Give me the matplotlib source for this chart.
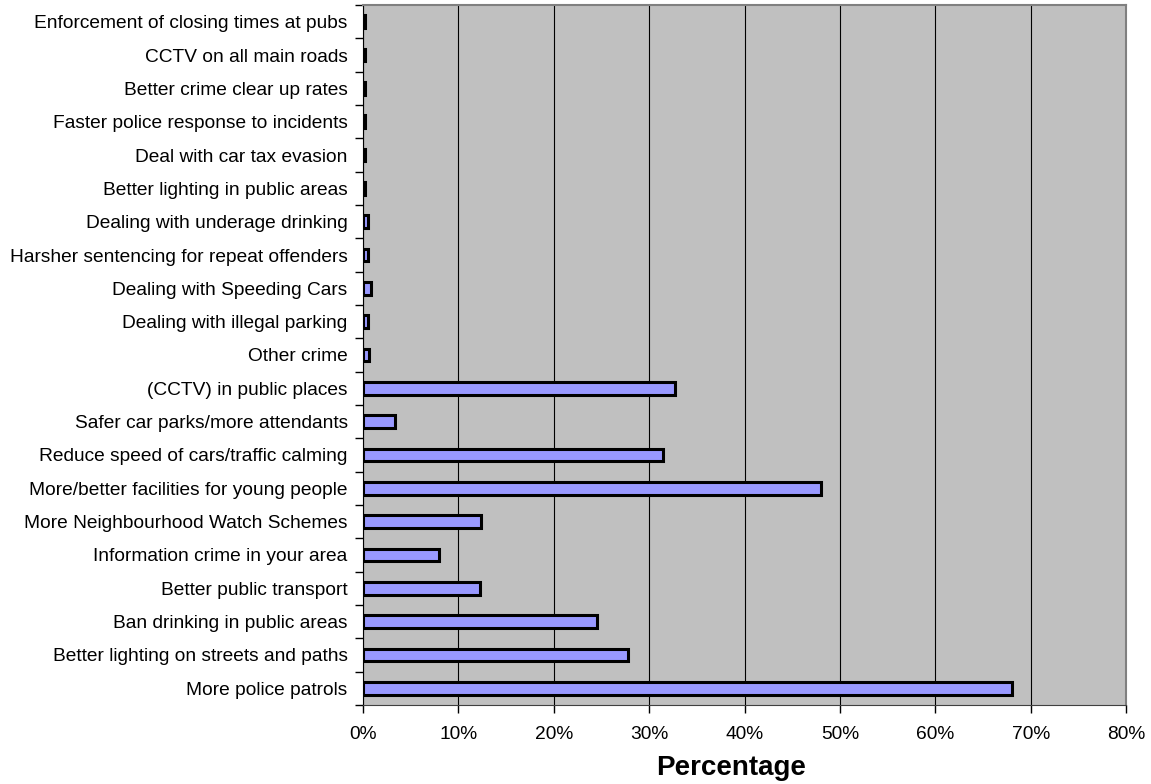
import numpy as np
import matplotlib.pyplot as plt
from matplotlib.ticker import FixedLocator, PercentFormatter

plt.rcParams['font.family'] = ['Liberation Sans', 'DejaVu Sans']

# survey answers, listed bottom to top
measures = [
    "More police patrols",
    "Better lighting on streets and paths",
    "Ban drinking in public areas",
    "Better public transport",
    "Information crime in your area",
    "More Neighbourhood Watch Schemes",
    "More/better facilities for young people",
    "Reduce speed of cars/traffic calming",
    "Safer car parks/more attendants",
    "(CCTV) in public places",
    "Other crime",
    "Dealing with illegal parking",
    "Dealing with Speeding Cars",
    "Harsher sentencing for repeat offenders",
    "Dealing with underage drinking",
    "Better lighting in public areas",
    "Deal with car tax evasion",
    "Faster police response to incidents",
    "Better crime clear up rates",
    "CCTV on all main roads",
    "Enforcement of closing times at pubs",
]
pct = [68.0, 27.8, 24.5, 12.3, 8.0, 12.4, 48.0, 31.5, 3.35, 32.7,
       0.6, 0.5, 0.8, 0.5, 0.5, 0.2, 0.2, 0.2, 0.2, 0.2, 0.2]

fig = plt.figure(figsize=(11.51, 7.84), dpi=100)
ax = fig.add_axes([0.3154, 0.1008, 0.9783 - 0.3154, 0.9936 - 0.1008])
ax.set_facecolor("#C0C0C0")

y = np.arange(len(measures))
ax.barh(y, pct, height=0.38, color="#9999FF", edgecolor="black",
        linewidth=2.2, zorder=3)

ax.set_xlim(0, 80)
ax.set_ylim(-0.5, len(measures) - 0.5)
ax.set_xticks(np.arange(0, 81, 10))
ax.xaxis.set_major_formatter(PercentFormatter(decimals=0))
ax.xaxis.grid(True, color="black", linewidth=0.8, zorder=1)

ax.set_yticks(y)
ax.set_yticklabels(measures)
ax.yaxis.set_minor_locator(FixedLocator(np.arange(-0.5, len(measures), 1)))
ax.tick_params(axis="y", which="major", length=0, pad=11, labelsize=13.8)
ax.tick_params(axis="y", which="minor", length=6, width=1, color="black")
ax.tick_params(axis="x", length=6, width=1, labelsize=13.8, pad=9)

for side in ("top", "right"):
    ax.spines[side].set_color("#808080")
    ax.spines[side].set_linewidth(1.5)
ax.spines["left"].set_color("black")
ax.spines["bottom"].set_color("#404040")

ax.set_xlabel("Percentage", fontsize=20, fontweight="bold")
ax.xaxis.set_label_coords(0.482, -0.071)

fig.savefig("out.png", dpi=100)
